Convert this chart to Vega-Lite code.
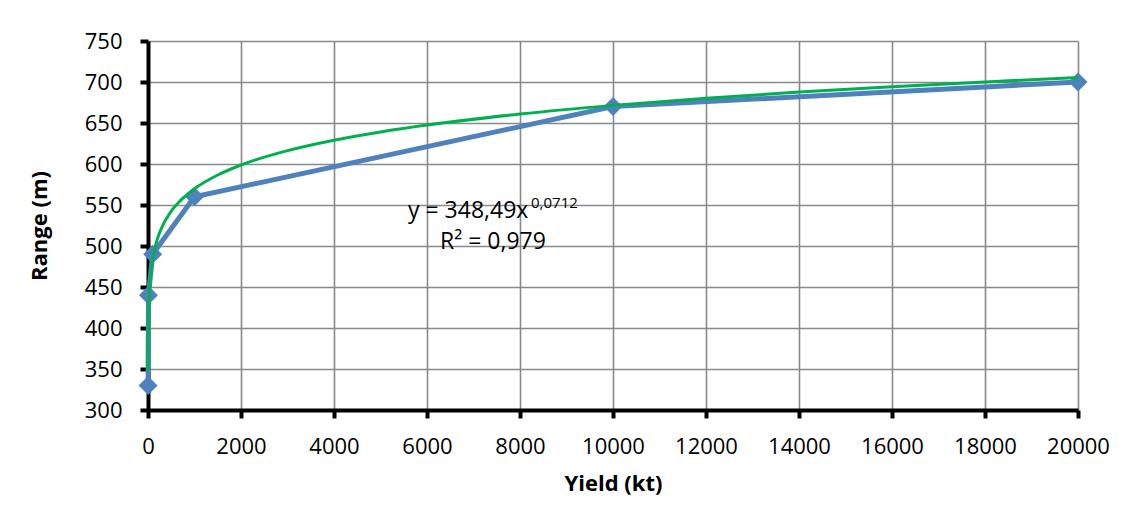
{
  "$schema": "https://vega.github.io/schema/vega-lite/v6.json",
  "autosize": "none",
  "width": 930,
  "height": 369,
  "padding": {"left": 148, "top": 41, "right": 54, "bottom": 115},
  "background": "white",
  "config": {
    "font": "Open Sans",
    "view": {"stroke": null},
    "axis": {
      "domainColor": "#000000",
      "domainWidth": 4,
      "tickColor": "#000000",
      "tickWidth": 4,
      "tickSize": 8,
      "gridColor": "#898989",
      "gridWidth": 1.6,
      "gridOpacity": 1,
      "labelFont": "Open Sans",
      "labelFontSize": 22,
      "labelColor": "#000000",
      "labelPadding": 18,
      "labelOverlap": false,
      "labelFlush": false,
      "titleFont": "Open Sans",
      "titleFontSize": 22,
      "titleFontWeight": "bold",
      "titleColor": "#000000"
    }
  },
  "datasets": {
    "obs": [
      {"yield": 1, "range": 330},
      {"yield": 10, "range": 440},
      {"yield": 100, "range": 490},
      {"yield": 1000, "range": 560},
      {"yield": 10000, "range": 670},
      {"yield": 20000, "range": 700}
    ],
    "trend": [
      {"yield": 1, "range": 348.5},
      {"yield": 2, "range": 366.1},
      {"yield": 5, "range": 390.8},
      {"yield": 10, "range": 410.6},
      {"yield": 20, "range": 431.3},
      {"yield": 50, "range": 460.4},
      {"yield": 100, "range": 483.7},
      {"yield": 200, "range": 508.2},
      {"yield": 300, "range": 523.1},
      {"yield": 500, "range": 542.5},
      {"yield": 700, "range": 555.6},
      {"yield": 1000, "range": 569.9},
      {"yield": 1500, "range": 586.6},
      {"yield": 2000, "range": 598.8},
      {"yield": 3000, "range": 616.3},
      {"yield": 4000, "range": 629.0},
      {"yield": 5000, "range": 639.1},
      {"yield": 6000, "range": 647.5},
      {"yield": 8000, "range": 660.9},
      {"yield": 10000, "range": 671.5},
      {"yield": 12000, "range": 680.2},
      {"yield": 14000, "range": 687.7},
      {"yield": 16000, "range": 694.3},
      {"yield": 18000, "range": 700.1},
      {"yield": 20000, "range": 705.4}
    ],
    "notes": [
      {"yield": 5591, "range": 534.1, "label": "y = 348,49x", "fs": 23},
      {"yield": 8237, "range": 546.3, "label": "0,0712", "fs": 15},
      {"yield": 6280, "range": 496.3, "label": "R² = 0,979", "fs": 23}
    ]
  },
  "encoding": {
    "x": {
      "field": "yield",
      "type": "quantitative",
      "scale": {"domain": [0, 20000], "nice": false},
      "axis": {
        "title": "Yield (kt)",
        "values": [0, 2000, 4000, 6000, 8000, 10000, 12000, 14000, 16000, 18000, 20000],
        "format": "d",
        "titlePadding": 16
      }
    },
    "y": {
      "field": "range",
      "type": "quantitative",
      "scale": {"domain": [300, 750], "nice": false, "zero": false},
      "axis": {
        "title": "Range (m)",
        "values": [300, 350, 400, 450, 500, 550, 600, 650, 700, 750],
        "format": "d",
        "titlePadding": 33
      }
    }
  },
  "layer": [
    {
      "data": {"name": "obs"},
      "mark": {
        "type": "line",
        "color": "#4F81BD",
        "strokeWidth": 5,
        "clip": false,
        "point": {"shape": "diamond", "size": 360, "filled": true, "color": "#4F81BD", "opacity": 1}
      }
    },
    {
      "data": {"name": "trend"},
      "mark": {"type": "line", "color": "#00B050", "strokeWidth": 3, "interpolate": "monotone"}
    },
    {
      "data": {"name": "notes"},
      "mark": {"type": "text", "align": "left", "baseline": "alphabetic", "color": "#000000", "font": "Open Sans"},
      "encoding": {
        "text": {"field": "label"},
        "size": {"field": "fs", "type": "quantitative", "scale": null}
      }
    }
  ]
}
